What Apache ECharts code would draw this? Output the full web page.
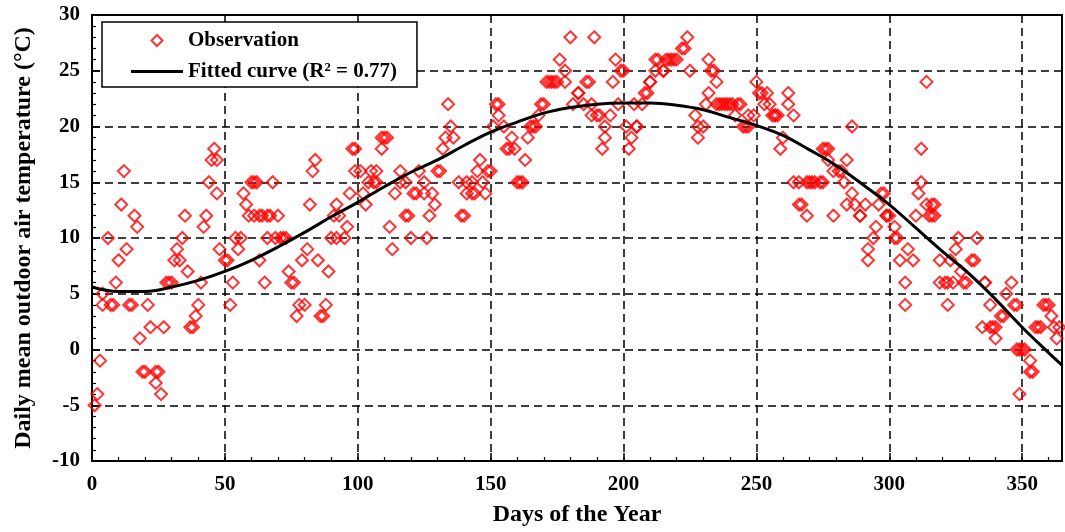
<!DOCTYPE html>
<html>
<head>
<meta charset="utf-8">
<title>Daily mean outdoor air temperature</title>
<script src="https://cdn.jsdelivr.net/npm/echarts@6/dist/echarts.min.js"></script>
<style>
  html, body { margin: 0; padding: 0; background: #fff; }
  #chart { width: 1065px; height: 532px; }
</style>
</head>
<body>
<div id="chart"></div>
<script>
// Observed daily mean temperatures: [day of year, °C]
const observations = [
  [1,-5],[2,-4],[3,-1],[4,5],[4,4],[6,10],[7,4],[8,4],[9,6],[10,8],[11,13],[12,16],[13,9],[14,4],[15,4],
  [16,12],[17,11],[18,1],[19,-2],[20,-2],[21,4],[22,2],[24,-2],[24,-3],[25,-2],[26,-4],[27,2],[28,6],[29,6],[30,6],
  [31,8],[32,9],[33,8],[34,10],[35,12],[36,7],[37,2],[38,2],[39,3],[40,4],[41,6],[42,11],[43,12],[44,15],[45,17],
  [46,18],[47,17],[47,14],[48,9],
  [50,8],[51,8],[52,4],[53,6],[54,10],[55,9],[56,10],[57,14],[58,13],[59,12],[60,15],[61,15],[62,15],[61,12],[63,12],
  [63,8],[64,12],[65,6],[66,10],[66,12],[67,12],[68,15],[69,10],[70,12],[71,10],[72,10],[73,10],[74,7],[75,6],[76,6],
  [77,3],[78,4],[79,8],[80,4],[81,9],[82,13],[83,16],[84,17],[85,8],[86,3],[87,3],[88,4],[89,7],[90,10],[91,12],[92,13],
  [92,10],[93,12],[95,10],[96,11],[97,14],[98,18],[99,18],[99,16],[101,16],[102,14],[103,13],[104,15],[105,16],[106,15],
  [107,16],[107,15],[109,18],[109,19],[110,19],[111,19],[112,11],[113,9],[114,14],[116,16],[116,15],[118,15],[118,12],
  [119,12],[120,10],[121,14],[122,14],[123,16],[125,15],[125,14],[126,10],[127,12],[128,14],[129,13],[130,16],[131,16],
  [132,18],[134,22],[133,19],[135,20],[136,19],[138,15],[139,12],[140,12],[141,14],
  [141,15],[143,14],[143,15],[144,14],[145,16],[146,17],[147,15],[148,14],[149,16],[150,16],[151,20],[152,22],[153,21],
  [153,22],[155,20],[156,18],[157,18],[158,19],[159,18],[160,15],[161,15],[162,15],[163,17],[164,19],[165,20],[166,20],
  [167,20],[168,21],[169,22],[170,22],[171,24],[172,24],[173,24],[174,24],[175,24],[176,26],[178,25],[178,24],[180,28],
  [181,22],[183,23],[183,23],[185,22],[186,24],[187,24],[188,22],[188,21],[189,28],
  [190,21],[191,21],[192,18],[193,20],[193,19],[195,21],[196,24],[197,26],[198,22],[199,25],[200,25],[201,20],[202,18],
  [203,19],[204,22],[205,20],[205,20],[207,22],[208,23],[209,23],[210,24],[210,24],[212,25],[212,26],[213,26],[215,25],
  [215,25],[216,26],[217,26],[218,26],[219,26],[220,26],[222,27],[223,27],[224,28],[225,25],[227,21],[228,19],[228,20],
  [230,20],[231,22],[232,23],[232,26],[233,25],[234,25],[235,24],[235,22],
  [236,22],[237,22],[238,22],[239,22],[240,22],[241,22],[242,21],[243,22],[244,22],[245,20],[246,20],[247,20],[247,21],
  [249,21],[250,24],[251,23],[252,23],[253,22],[254,23],[255,22],[256,21],[257,21],[257,21],[258,21],[259,18],[260,19],
  [262,23],[262,22],[264,21],[264,15],[266,15],[266,13],[267,13],[269,12],[269,15],[270,15],[271,15],[272,15],[274,15],
  [275,15],[275,18],[276,18],[277,17],[277,18],[279,12],[279,16],[281,16],
  [282,16],[283,15],[284,17],[284,13],[286,20],[286,14],[287,13],[289,12],[289,12],[291,13],[292,9],[292,8],[294,10],
  [295,11],[296,13],[297,14],[298,14],[299,12],[299,12],[300,12],[302,10],[302,11],[303,10],[304,8],[306,4],[306,6],
  [307,9],[309,8],[310,12],[311,14],[312,15],[312,18],[314,24],[314,13],[315,12],[316,13],[316,12],[317,13],[317,12],
  [319,8],[319,6],[321,6],[322,4],[322,6],[323,8],[324,6],[325,9],[326,10],[327,7],[328,6],[329,6],
  [331,8],[332,8],[333,10],[335,2],[336,6],[336,6],[338,4],[338,2],[339,2],[340,1],[340,2],[342,3],[343,3],[344,5],
  [346,6],[347,4],[348,4],[348,0],[349,0],[350,0],[351,0],[349,-4],[353,-1],[353,-2],[354,-2],[355,2],[356,2],[357,2],
  [358,4],[359,4],[360,4],[361,3],[362,2],[363,1],[364,2]
];

// Fitted curve sampled along the year
const curveDays  = [0, 10, 20, 30, 40, 50, 60, 70, 80, 90, 100, 110, 120, 130, 140, 150, 160, 170, 180,
                    190, 200, 210, 220, 230, 240, 250, 260, 270, 280, 290, 300, 310, 320, 330, 340, 350, 360, 365];
const curveTemps = [5.6, 5.2, 5.2, 5.6, 6.2, 7.0, 8.0, 9.2, 10.5, 11.9, 13.2, 14.6, 15.9, 17.0, 18.3, 19.5, 20.4, 21.2, 21.7,
                    22.0, 22.1, 22.1, 21.9, 21.5, 20.8, 20.1, 19.2, 17.9, 16.5, 14.8, 13.0, 10.9, 8.8, 6.8, 4.5, 2.0, -0.3, -1.4];

const seriesNames = ['Observation', 'Fitted curve (R\u00b2 = 0.77)'];
const xAxisTitle = 'Days of the Year';
const yAxisTitle = 'Daily mean outdoor air temperature (\u00b0C)';

const FONT = '"Liberation Serif", "Times New Roman", serif';
const MARKER_RED = '#ff0000';
const chart = echarts.init(document.getElementById('chart'), null, { renderer: 'canvas' });

const axisCommon = {
  axisLine: { show: true, onZero: false, lineStyle: { color: '#000', width: 2 } },
  axisTick: { show: true, inside: true, length: 8, lineStyle: { color: '#000', width: 1.5 } },
  minorTick: { show: true, splitNumber: 5, length: 4, lineStyle: { color: '#000', width: 1.2 } },
  splitLine: { show: true, lineStyle: { color: '#000', width: 1.5, type: [8, 5] } },
  axisLabel: { color: '#000', fontFamily: FONT, fontWeight: 'bold', fontSize: 21 },
  nameLocation: 'middle',
  nameTextStyle: { color: '#000', fontFamily: FONT, fontWeight: 'bold', fontSize: 24 }
};

chart.setOption({
  animation: false,
  backgroundColor: '#fff',
  grid: {
    left: 92, right: 3, top: 15, bottom: 67,
    show: true, borderColor: '#000', borderWidth: 2, backgroundColor: 'transparent'
  },
  legend: {
    left: 102, top: 22,
    orient: 'vertical',
    symbolKeepAspect: true,
    data: [
      {
        name: seriesNames[0],
        // square-proportioned diamond so it is not stretched to the item width
        icon: 'path://M5 0L10 5L5 10L0 5Z',
        itemStyle: { color: 'rgba(255,255,255,0)', borderColor: MARKER_RED, borderWidth: 2 }
      },
      {
        name: seriesNames[1],
        icon: 'path://M0 0H52V3H0Z',
        itemStyle: { color: '#000', borderWidth: 0 }
      }
    ],
    itemWidth: 52, itemHeight: 11, itemGap: 10,
    padding: [8, 20, 5, 29],
    backgroundColor: '#fff',
    borderColor: '#000', borderWidth: 1.5, borderRadius: 0,
    textStyle: { color: '#000', fontFamily: FONT, fontWeight: 'bold', fontSize: 21, lineHeight: 20 }
  },
  xAxis: Object.assign({}, axisCommon, {
    type: 'value', min: 0, max: 365, interval: 50,
    name: xAxisTitle, nameGap: 42,
    axisLabel: Object.assign({}, axisCommon.axisLabel, { margin: 13, showMaxLabel: false })
  }),
  yAxis: Object.assign({}, axisCommon, {
    type: 'value', min: -10, max: 30, interval: 5,
    name: yAxisTitle, nameGap: 56,
    axisLabel: Object.assign({}, axisCommon.axisLabel, { margin: 12 })
  }),
  series: [
    {
      name: seriesNames[0],
      type: 'scatter',
      symbol: 'diamond',
      symbolSize: 12,
      itemStyle: { color: 'rgba(255,255,255,0)', borderColor: MARKER_RED, borderWidth: 2 },
      data: observations,
      z: 2
    },
    {
      name: seriesNames[1],
      type: 'line',
      symbol: 'none',
      smooth: 0.4,
      clip: true,
      itemStyle: { color: '#000' },
      lineStyle: { color: '#000', width: 3 },
      data: curveDays.map((d, i) => [d, curveTemps[i]]),
      z: 3
    }
  ]
});
</script>
</body>
</html>
